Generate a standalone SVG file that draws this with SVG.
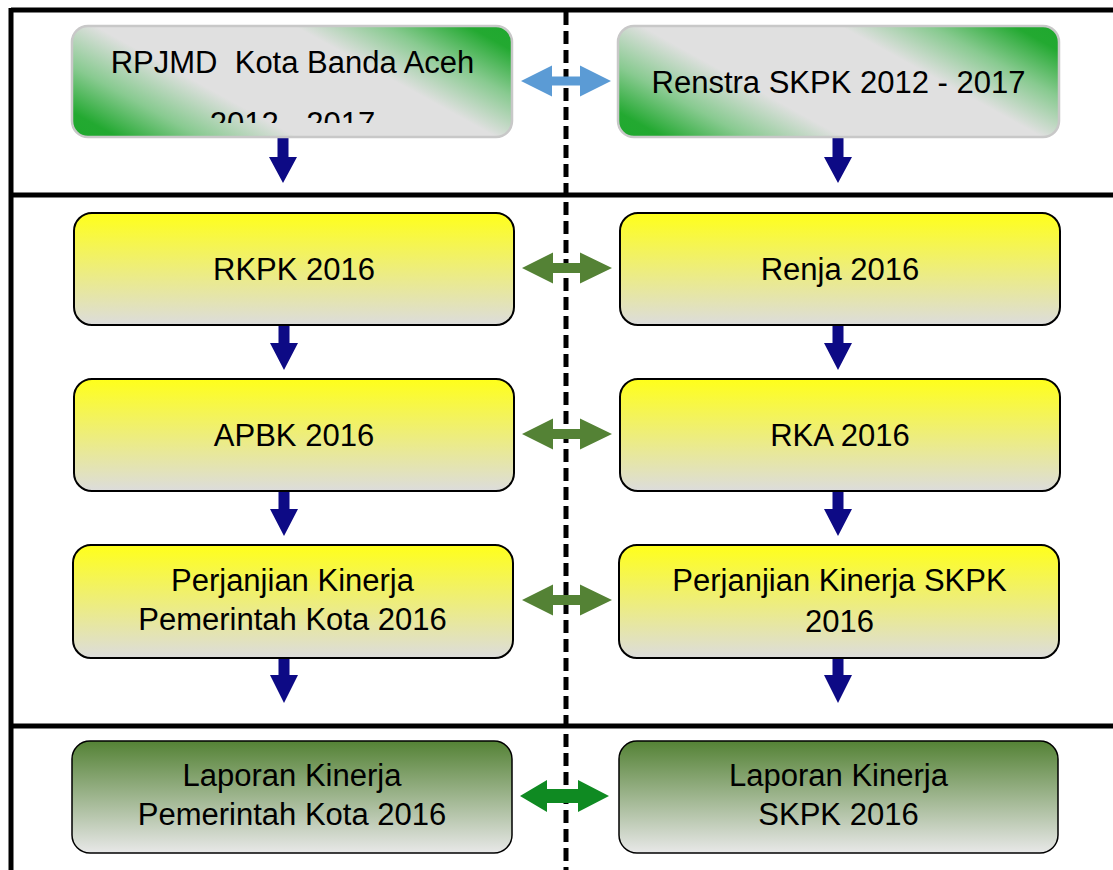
<svg xmlns="http://www.w3.org/2000/svg" width="1113" height="870" viewBox="0 0 1113 870">
<style>
.t{font-family:"Liberation Sans",Arial,sans-serif;font-size:31px;fill:#000;text-anchor:middle}
.frame{stroke:#000;stroke-width:5;fill:none}
.top{stroke:#c8c8c8;stroke-width:2.5}
.yel{stroke:#000;stroke-width:2;fill:url(#gYel)}
.dg{stroke:#000;stroke-width:1.5;fill:url(#gDg)}
.down{fill:#0d0a85}
</style>
<defs>
<linearGradient id="gTopL" gradientUnits="userSpaceOnUse" x1="218" y1="217" x2="367" y2="-54">
<stop offset="0" stop-color="#1fa82e"/>
<stop offset="0.07" stop-color="#23a931"/>
<stop offset="0.2" stop-color="#88ca90"/>
<stop offset="0.35" stop-color="#e0e0e0"/>
<stop offset="0.66" stop-color="#e0e0e0"/>
<stop offset="0.8" stop-color="#88ca90"/>
<stop offset="0.93" stop-color="#23a931"/>
<stop offset="1" stop-color="#1fa82e"/>
</linearGradient>
<linearGradient id="gTopR" href="#gTopL" xlink:href="#gTopL" xmlns:xlink="http://www.w3.org/1999/xlink" gradientUnits="userSpaceOnUse" x1="764" y1="217" x2="913" y2="-54"/>
<linearGradient id="gYel" x1="0" y1="0" x2="0" y2="1">
<stop offset="0" stop-color="#ffff1a"/>
<stop offset="1" stop-color="#dcdcdc"/>
</linearGradient>
<linearGradient id="gDg" x1="0" y1="0" x2="0" y2="1">
<stop offset="0" stop-color="#548235"/>
<stop offset="1" stop-color="#e8e8e8"/>
</linearGradient>
<clipPath id="clipTop"><rect x="72" y="26" width="440" height="97"/></clipPath>
</defs>
<rect width="1113" height="870" fill="#fff"/>
<g id="frame">
<line class="frame" x1="11" y1="10" x2="1113" y2="10"/>
<line class="frame" x1="11" y1="8" x2="11" y2="870"/>
<line class="frame" x1="11" y1="195" x2="1113" y2="195"/>
<line class="frame" x1="11" y1="726" x2="1113" y2="726"/>
<line x1="566" y1="12" x2="566" y2="870" stroke="#000" stroke-width="5" stroke-dasharray="13 6"/>
</g>
<g id="connectors">
<path fill="#5b9bd5" d="M521,81 L552,65.5 L552,76.5 L580,76.5 L580,65.5 L611,81 L580,96.5 L580,85.5 L552,85.5 L552,96.5 Z"/>
<path fill="#548235" d="M522,268 L553,252.5 L553,263 L580,263 L580,252.5 L612,268 L580,283.5 L580,273 L553,273 L553,283.5 Z"/>
<path fill="#548235" d="M522,434 L553,418.5 L553,429 L580,429 L580,418.5 L612,434 L580,449.5 L580,439 L553,439 L553,449.5 Z"/>
<path fill="#548235" d="M522,600 L553,584.5 L553,595 L580,595 L580,584.5 L612,600 L580,615.5 L580,605 L553,605 L553,615.5 Z"/>
<path fill="#0f8a22" d="M520,796 L547,780 L547,789 L578,789 L578,780 L609,796 L578,812 L578,803 L547,803 L547,812 Z"/>
<path class="down" d="M277.5,138 L288.5,138 L288.5,157 L297,157 L283,183 L269,157 L277.5,157 Z"/>
<path class="down" d="M832.5,138 L843.5,138 L843.5,157 L852,157 L838,183 L824,157 L832.5,157 Z"/>
<path class="down" d="M278.5,326 L289.5,326 L289.5,343 L298,343 L284,370 L270,343 L278.5,343 Z"/>
<path class="down" d="M832.5,326 L843.5,326 L843.5,343 L852,343 L838,370 L824,343 L832.5,343 Z"/>
<path class="down" d="M278.5,492 L289.5,492 L289.5,509 L298,509 L284,536 L270,509 L278.5,509 Z"/>
<path class="down" d="M832.5,492 L843.5,492 L843.5,509 L852,509 L838,536 L824,509 L832.5,509 Z"/>
<path class="down" d="M278.5,658 L289.5,658 L289.5,675 L298,675 L284,703 L270,675 L278.5,675 Z"/>
<path class="down" d="M832.5,658 L843.5,658 L843.5,675 L852,675 L838,703 L824,675 L832.5,675 Z"/>
</g>
<g id="rpjmd">
<rect class="top" fill="url(#gTopL)" x="72" y="26" width="440" height="111" rx="16"/>
<text class="t" x="292.5" y="73" xml:space="preserve">RPJMD  Kota Banda Aceh</text>
<text class="t" x="292.5" y="134" clip-path="url(#clipTop)">2012 - 2017</text>
</g>
<g id="renstra">
<rect class="top" fill="url(#gTopR)" x="618" y="26" width="441" height="111" rx="16"/>
<text class="t" x="838.5" y="93">Renstra SKPK 2012 - 2017</text>
</g>
<g id="rkpk">
<rect class="yel" x="74" y="213" width="440" height="112" rx="18"/>
<text class="t" x="294" y="280">RKPK 2016</text>
</g>
<g id="renja">
<rect class="yel" x="620" y="213" width="440" height="112" rx="18"/>
<text class="t" x="840" y="280">Renja 2016</text>
</g>
<g id="apbk">
<rect class="yel" x="74" y="379" width="440" height="112" rx="18"/>
<text class="t" x="294" y="446">APBK 2016</text>
</g>
<g id="rka">
<rect class="yel" x="620" y="379" width="440" height="112" rx="18"/>
<text class="t" x="840" y="446">RKA 2016</text>
</g>
<g id="pk-kota">
<rect class="yel" x="73" y="545" width="440" height="113" rx="18"/>
<text class="t" x="292.5" y="591">Perjanjian Kinerja</text>
<text class="t" x="292.5" y="630">Pemerintah Kota 2016</text>
</g>
<g id="pk-skpk">
<rect class="yel" x="619" y="545" width="440" height="113" rx="18"/>
<text class="t" x="839.5" y="591">Perjanjian Kinerja SKPK</text>
<text class="t" x="839.5" y="632">2016</text>
</g>
<g id="lk-kota">
<rect class="dg" x="72" y="741" width="440" height="112" rx="18"/>
<text class="t" x="292" y="786">Laporan Kinerja</text>
<text class="t" x="292" y="825">Pemerintah Kota 2016</text>
</g>
<g id="lk-skpk">
<rect class="dg" x="619" y="741" width="439" height="112" rx="18"/>
<text class="t" x="838.5" y="786">Laporan Kinerja</text>
<text class="t" x="838.5" y="825">SKPK 2016</text>
</g>
</svg>
